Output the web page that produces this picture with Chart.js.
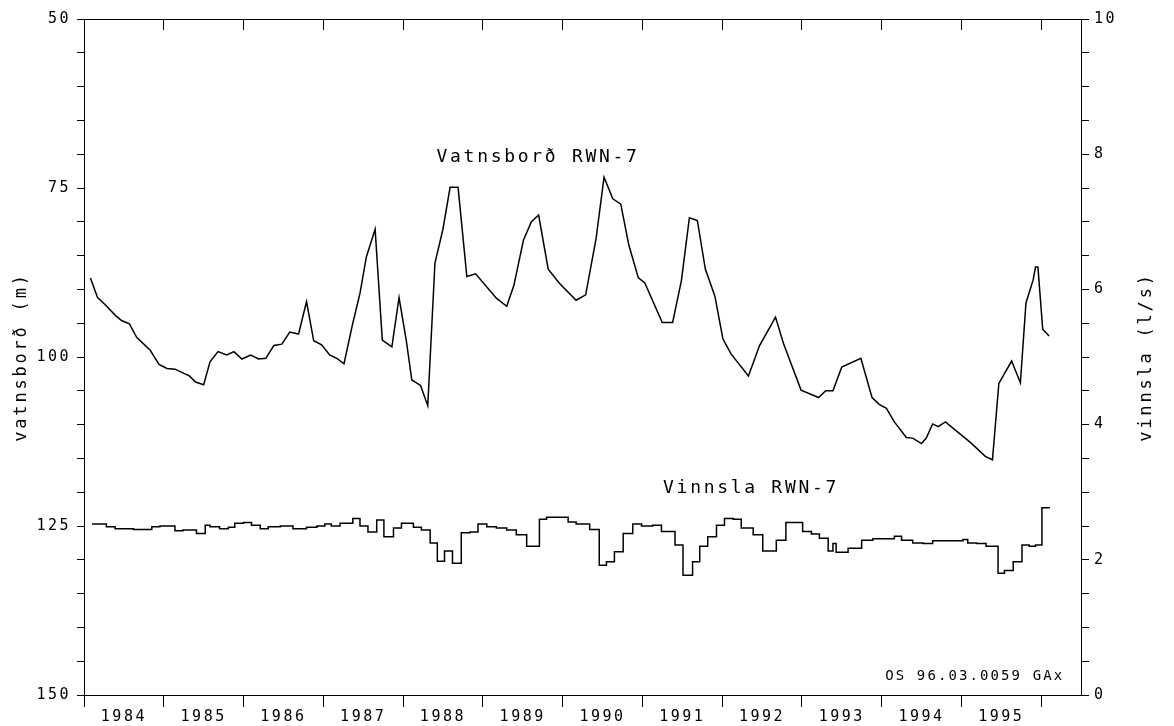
<!DOCTYPE html>
<html lang="is">
<head>
    <meta charset="UTF-8">
    <title>Vatnsborð og vinnsla RWN-7</title>
    <script src="https://cdn.jsdelivr.net/npm/chart.js"></script>
    <style>
        body { margin: 0; background: #fff; }
        canvas { display: block; }
    </style>
</head>
<body>
    <canvas id="chart" width="1174" height="726"></canvas>

    <script>
        // year boundaries (tick marks) and year labels
        const years = [1984, 1985, 1986, 1987, 1988, 1989, 1990, 1991, 1992, 1993, 1994, 1995];
        const yearTicks = [1984, 1985, 1986, 1987, 1988, 1989, 1990, 1991, 1992, 1993, 1994, 1995, 1996];

        // vatnsborð (m)
        const levelYears = [1984.08, 1984.17, 1984.26, 1984.39, 1984.47, 1984.57, 1984.66, 1984.83, 1984.94,
            1985.04, 1985.14, 1985.32, 1985.40, 1985.50, 1985.58, 1985.68, 1985.79, 1985.88, 1985.98,
            1986.09, 1986.19, 1986.28, 1986.38, 1986.48, 1986.58, 1986.69, 1986.79, 1986.88, 1986.98,
            1987.08, 1987.17, 1987.26, 1987.37, 1987.46, 1987.54, 1987.65, 1987.74, 1987.86, 1987.95,
            1988.04, 1988.11, 1988.22, 1988.31, 1988.40, 1988.50, 1988.59, 1988.69, 1988.80, 1988.91,
            1989.17, 1989.30, 1989.39, 1989.51, 1989.61, 1989.70, 1989.82, 1989.96,
            1990.17, 1990.29, 1990.42, 1990.52, 1990.63, 1990.73, 1990.83, 1990.95,
            1991.03, 1991.25, 1991.38, 1991.49, 1991.59, 1991.69, 1991.79, 1991.91,
            1992.01, 1992.11, 1992.33, 1992.47, 1992.67, 1992.77, 1992.99,
            1993.21, 1993.30, 1993.39, 1993.50, 1993.74, 1993.88, 1993.97,
            1994.06, 1994.16, 1994.31, 1994.39, 1994.50, 1994.56, 1994.64, 1994.71, 1994.80,
            1995.12, 1995.30, 1995.39, 1995.47, 1995.63, 1995.74, 1995.81, 1995.90, 1995.93, 1995.96,
            1996.02, 1996.10];
        const levelValues = [88.3, 91.2, 92.2, 93.8, 94.6, 95.1, 97.1, 99.0, 101.1,
            101.7, 101.8, 102.8, 103.7, 104.1, 100.7, 99.2, 99.7, 99.2, 100.3,
            99.7, 100.3, 100.2, 98.3, 98.1, 96.3, 96.6, 91.8, 97.6, 98.2,
            99.7, 100.2, 101.0, 95.0, 90.6, 85.2, 81.1, 97.5, 98.5, 91.2,
            97.5, 103.4, 104.2, 107.2, 86.1, 81.1, 74.9, 74.9, 88.1, 87.7,
            91.3, 92.5, 89.4, 82.7, 80.0, 79.0, 87.0, 89.1,
            91.6, 90.8, 82.5, 73.4, 76.6, 77.4, 83.4, 88.3,
            89.0, 94.9, 94.9, 88.7, 79.4, 79.8, 87.0, 91.0,
            97.3, 99.5, 102.8, 98.3, 94.1, 98.0, 104.9,
            106.0, 105.0, 105.0, 101.5, 100.2, 106.0, 107.0,
            107.6, 109.6, 111.9, 112.0, 112.8, 112.0, 109.9, 110.3, 109.6,
            112.7, 114.7, 115.2, 103.9, 100.6, 103.8, 92.0, 88.6, 86.7, 86.7,
            95.9, 96.9];

        // vinnsla (l/s): start of each period and its rate
        const pumpStart = [1984.10, 1984.28, 1984.39, 1984.62, 1984.85, 1984.95,
            1985.14, 1985.24, 1985.41, 1985.52, 1985.58, 1985.70, 1985.81, 1985.89,
            1986.00, 1986.10, 1986.21, 1986.31, 1986.46, 1986.62, 1986.79, 1986.92,
            1987.02, 1987.10, 1987.21, 1987.37, 1987.46, 1987.56, 1987.67, 1987.76, 1987.88, 1987.98,
            1988.13, 1988.23, 1988.34, 1988.43, 1988.52, 1988.62, 1988.73, 1988.84, 1988.94,
            1989.05, 1989.17, 1989.30, 1989.42, 1989.55, 1989.71, 1989.80,
            1990.07, 1990.17, 1990.34, 1990.46, 1990.55, 1990.65, 1990.76, 1990.88, 1990.99,
            1991.13, 1991.24, 1991.41, 1991.51, 1991.63, 1991.72, 1991.82, 1991.93,
            1992.03, 1992.14, 1992.24, 1992.39, 1992.51, 1992.68, 1992.80,
            1993.01, 1993.12, 1993.22, 1993.33, 1993.39, 1993.43, 1993.58, 1993.75, 1993.89,
            1994.16, 1994.25, 1994.39, 1994.52, 1994.64,
            1995.02, 1995.08, 1995.19, 1995.31, 1995.46, 1995.54, 1995.65, 1995.76, 1995.85, 1995.93,
            1996.01];
        const pumpValues = [2.53, 2.49, 2.46, 2.45, 2.49, 2.50,
            2.43, 2.44, 2.39, 2.51, 2.49, 2.46, 2.48, 2.54,
            2.55, 2.51, 2.46, 2.49, 2.50, 2.46, 2.48, 2.50,
            2.53, 2.50, 2.54, 2.61, 2.50, 2.41, 2.59, 2.34, 2.47, 2.54,
            2.48, 2.44, 2.25, 1.98, 2.13, 1.95, 2.40, 2.41, 2.53,
            2.49, 2.47, 2.44, 2.37, 2.20, 2.60, 2.63,
            2.56, 2.53, 2.45, 1.92, 1.97, 2.12, 2.39, 2.53, 2.50,
            2.51, 2.42, 2.22, 1.77, 1.97, 2.20, 2.34, 2.51,
            2.61, 2.60, 2.47, 2.37, 2.13, 2.29, 2.55,
            2.42, 2.38, 2.32, 2.13, 2.24, 2.11, 2.17, 2.29, 2.31,
            2.35, 2.29, 2.25, 2.24, 2.28,
            2.30, 2.25, 2.24, 2.20, 1.80, 1.84, 1.97, 2.22, 2.20, 2.22,
            2.77];
        const pumpEnd = 1996.11;

        const levelLabel = 'Vatnsborð RWN-7';
        const pumpLabel = 'Vinnsla RWN-7';
        const stampLabel = 'OS 96.03.0059 GAx';

        const FONT = '"DejaVu Sans Mono", monospace';

        const levelData = levelYears.map((t, i) => ({ x: t, y: levelValues[i] }));
        const pumpData = pumpStart.map((t, i) => ({ x: t, y: pumpValues[i] }));
        pumpData.push({ x: pumpEnd, y: pumpValues[pumpValues.length - 1] });

        // free text on the plot, axis titles reading bottom-to-top on both sides
        const textPlugin = {
            id: 'texts',
            beforeDraw(chart) {
                chart.ctx.letterSpacing = '2.5px';
            },
            afterDraw(chart) {
                const ctx = chart.ctx;
                const { x, y, y2 } = chart.scales;
                const area = chart.chartArea;
                const midY = (area.top + area.bottom) / 2;
                ctx.save();
                ctx.fillStyle = '#000';
                ctx.textBaseline = 'middle';

                ctx.font = '18px ' + FONT;
                ctx.letterSpacing = '2.7px';
                ctx.textAlign = 'left';
                ctx.fillText(levelLabel, x.getPixelForValue(1988.42), y.getPixelForValue(70.4));
                ctx.fillText(pumpLabel, x.getPixelForValue(1991.26), y2.getPixelForValue(3.06));

                ctx.font = '14px ' + FONT;
                ctx.letterSpacing = '2.1px';
                ctx.textAlign = 'right';
                ctx.fillText(stampLabel, x.getPixelForValue(1996.29), y2.getPixelForValue(0.28));

                ctx.font = '17px ' + FONT;
                ctx.letterSpacing = '2.8px';
                ctx.textAlign = 'center';
                ctx.save();
                ctx.translate(22, midY);
                ctx.rotate(-Math.PI / 2);
                ctx.fillText('vatnsborð (m)', 0, 0);
                ctx.restore();
                ctx.save();
                ctx.translate(1147, midY);
                ctx.rotate(-Math.PI / 2);
                ctx.fillText('vinnsla (l/s)', 0, 0);
                ctx.restore();

                ctx.restore();
            }
        };

        const black = '#000';
        const tickFont = { family: FONT, size: 15 };

        new Chart(document.getElementById('chart').getContext('2d'), {
            type: 'line',
            data: {
                datasets: [
                    {
                        label: levelLabel, data: levelData, xAxisID: 'x', yAxisID: 'y',
                        borderColor: black, borderWidth: 1.5, pointRadius: 0, tension: 0, fill: false
                    },
                    {
                        label: pumpLabel, data: pumpData, xAxisID: 'x', yAxisID: 'y2',
                        borderColor: black, borderWidth: 1.5, pointRadius: 0, stepped: 'before', fill: false
                    }
                ]
            },
            options: {
                responsive: false,
                animation: false,
                events: [],
                layout: { padding: 0 },
                plugins: { legend: { display: false }, tooltip: { enabled: false } },
                scales: {
                    x: {
                        type: 'linear', position: 'bottom', weight: 0,
                        min: 1984, max: 1996.5,
                        afterBuildTicks: s => { s.ticks = yearTicks.map(v => ({ value: v })); },
                        afterFit: s => { s.height = 12; },
                        ticks: { display: false },
                        grid: { drawOnChartArea: false, drawTicks: true, tickLength: 12, color: black, lineWidth: 1 },
                        border: { display: true, color: black, width: 1 }
                    },
                    xLabels: {
                        type: 'linear', position: 'bottom', weight: 1,
                        min: 1984, max: 1996.5,
                        afterBuildTicks: s => { s.ticks = years.map(v => ({ value: v + 0.5 })); },
                        afterFit: s => { s.height = 19; },
                        ticks: {
                            autoSkip: false, maxRotation: 0, padding: 1, color: black, font: tickFont,
                            callback: v => String(Math.floor(v))
                        },
                        grid: { display: false, drawTicks: false },
                        border: { display: false }
                    },
                    xTop: {
                        type: 'linear', position: 'top',
                        min: 1984, max: 1996.5,
                        afterBuildTicks: s => { s.ticks = yearTicks.map(v => ({ value: v })); },
                        afterFit: s => { s.height = 19; },
                        ticks: { display: false },
                        grid: { drawOnChartArea: false, drawTicks: true, tickLength: -11, color: black, lineWidth: 1 },
                        border: { display: true, color: black, width: 1 }
                    },
                    y: {
                        type: 'linear', position: 'left', reverse: true,
                        min: 50, max: 150,
                        afterFit: s => { s.width = 84; },
                        ticks: {
                            stepSize: 5, autoSkip: false, padding: 6, color: black, font: tickFont,
                            callback: v => (v % 25 === 0 ? String(v) : '')
                        },
                        grid: { drawOnChartArea: false, drawTicks: true, tickLength: 7, color: black, lineWidth: 1 },
                        border: { display: true, color: black, width: 1 }
                    },
                    y2: {
                        type: 'linear', position: 'right',
                        min: 0, max: 10,
                        afterFit: s => { s.width = 93; },
                        ticks: {
                            stepSize: 0.5, autoSkip: false, padding: 5, color: black, font: tickFont,
                            callback: v => (Math.abs(v % 2) < 1e-9 ? String(v) : '')
                        },
                        grid: { drawOnChartArea: false, drawTicks: true, tickLength: 8, color: black, lineWidth: 1 },
                        border: { display: true, color: black, width: 1 }
                    }
                }
            },
            plugins: [textPlugin]
        });
    </script>
</body>
</html>
